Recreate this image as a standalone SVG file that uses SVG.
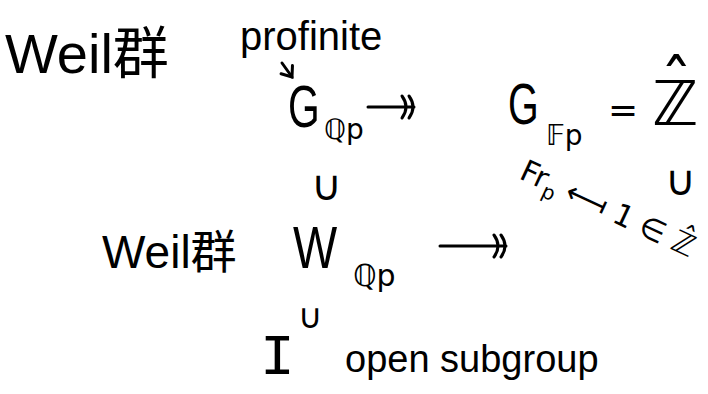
<svg xmlns="http://www.w3.org/2000/svg" width="708" height="394" viewBox="0 0 708 394">
<style>
text{font-family:"Liberation Sans","DejaVu Sans","Noto Sans CJK JP",sans-serif;fill:#000}
.m{font-family:"DejaVu Sans","Liberation Sans",sans-serif}
.cn{font-family:"Liberation Sans","Noto Sans CJK JP",sans-serif}
.ln{stroke:#000;stroke-width:3;fill:none;stroke-linecap:round}
</style>
<defs>
<marker id="dbl" markerUnits="userSpaceOnUse" markerWidth="24" markerHeight="24" refX="14" refY="11" orient="auto" overflow="visible">
<path d="M2,0 Q10,11 2,22 M9,0 Q17,11 9,22" stroke="#000" stroke-width="3" fill="none" stroke-linecap="round"/>
</marker>
<marker id="arr" markerUnits="userSpaceOnUse" markerWidth="14" markerHeight="14" refX="10" refY="7" orient="auto" overflow="visible">
<path d="M1,0 L10,7 L1,14" stroke="#000" stroke-width="3" fill="none" stroke-linecap="round"/>
</marker>
</defs>
<rect width="708" height="394" fill="#fff"/>

<g id="weil-title"><text class="cn" x="5" y="73" font-size="56">Weil群</text></g>
<g id="profinite"><text x="240" y="50" font-size="40">profinite</text></g>

<g id="G-Qp">
<text transform="translate(288,127) scale(0.68,1)" font-size="60">G</text>
<text class="m" x="324" y="139" font-size="28">ℚp</text>
</g>
<g id="G-Fp">
<text transform="translate(508,124) scale(0.68,1)" font-size="58">G</text>
<text class="m" x="546" y="145" font-size="28">𝔽p</text>
</g>
<g id="equals"><text class="m" x="608" y="122" font-size="36">=</text></g>
<g id="Zhat">
<text class="m" x="652" y="125" font-size="62">ℤ<tspan dx="-38" dy="-19" font-size="64">ˆ</tspan></text>
</g>

<g id="frobenius" transform="translate(518,178) rotate(25)">
<text class="m" x="0" y="0" font-size="30">Fr<tspan font-size="20" dy="7">p</tspan><tspan dy="-7"> ⟻ 1 ∈ ℤ</tspan><tspan dx="-18" dy="-7">ˆ</tspan></text>
</g>

<g id="weil-label"><text class="cn" x="102" y="268" font-size="46">Weil群</text></g>
<g id="W-Qp">
<text transform="translate(293,268) scale(0.78,1)" font-size="60">W</text>
<text class="m" x="353" y="286" font-size="30">ℚp</text>
</g>
<g id="I"><text x="260" y="374" font-size="58" style="font-family:'Liberation Mono',monospace">I</text></g>
<g id="open-subgroup"><text x="345" y="372" font-size="38">open subgroup</text></g>

<g id="connectors">
<path class="ln" d="M282,63 L292,77" marker-end="url(#arr)"/>
<path class="ln" d="M368,107 L414,107" marker-end="url(#dbl)"/>
<path class="ln" d="M440,246 L506,246" marker-end="url(#dbl)"/>
<text class="m" x="311" y="200" font-size="42">∪</text>
<text class="m" x="665" y="195" font-size="42">∪</text>
<text class="m" x="298" y="328" font-size="34">∪</text>
</g>
</svg>
